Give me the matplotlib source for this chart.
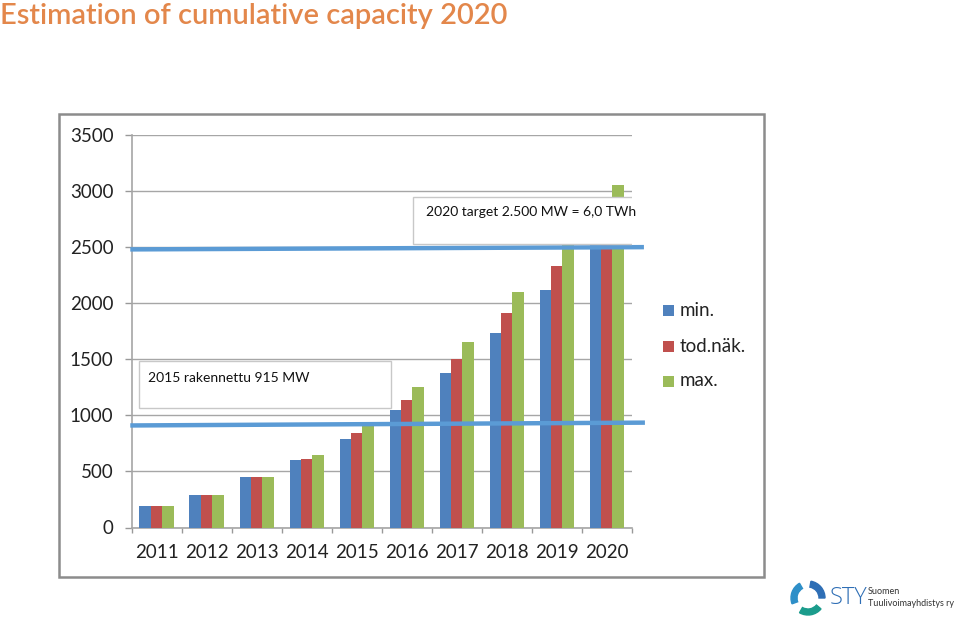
import matplotlib
matplotlib.use("Agg")
import matplotlib.pyplot as plt
from matplotlib.patches import Rectangle, Wedge
import numpy as np

years = ["2011", "2012", "2013", "2014", "2015", "2016", "2017", "2018", "2019", "2020"]
series_names = ["min.", "tod.näk.", "max."]
min_vals = [190, 290, 450, 600, 790, 1045, 1375, 1735, 2115, 2600]
tod_vals = [190, 290, 450, 610, 840, 1140, 1505, 1910, 2335, 2800]
max_vals = [190, 290, 450, 650, 920, 1250, 1650, 2100, 2600, 3050]
colors = ["#4F81BD", "#C0504D", "#9BBB59"]
yticks = [0, 500, 1000, 1500, 2000, 2500, 3000, 3500]
target_line = [2480, 2500]
built_line = [910, 935]
title = "Estimation of cumulative capacity 2020"
target_text = "2020 target 2.500 MW = 6,0 TWh"
built_text = "2015 rakennettu 915 MW"

FONT = ["Lato", "DejaVu Sans"]
plt.rcParams["font.family"] = FONT

fig = plt.figure(figsize=(9.6, 6.2), dpi=100)
W, H = 960, 620

def fx(px):
    return px / W

def fy(py):
    return 1 - py / H

# outer chart frame
fig.patches.append(Rectangle((fx(59), fy(577)), fx(764) - fx(59), fy(114) - fy(577),
                             transform=fig.transFigure, fill=False, edgecolor="#8C8C8C",
                             linewidth=1.8, zorder=0))

ax = fig.add_axes([fx(131.5), fy(527.5), fx(631.7) - fx(131.5), fy(135) - fy(527.5)])
x = np.arange(len(years))
bw = 0.227
for i, (vals, c) in enumerate(zip([min_vals, tod_vals, max_vals], colors)):
    ax.bar(x + (i - 1) * bw, vals, width=bw, color=c, zorder=3, label=series_names[i])

ax.set_xlim(-0.5, len(years) - 0.5)
ax.set_ylim(0, 3500)
ax.set_yticks(yticks)
ax.set_yticklabels([str(v) for v in yticks], fontsize=13.5, color="#222222")
ax.set_xticks(x)
ax.set_xticklabels(years, fontsize=13.5, color="#222222")
ax.set_xticks(np.arange(len(years) + 1) - 0.5, minor=True)
ax.tick_params(axis="x", which="major", length=0, pad=12)
ax.tick_params(axis="x", which="minor", length=3.6, color="#999999", width=1)
ax.tick_params(axis="y", length=5, color="#999999", width=1, pad=8)
ax.grid(axis="y", color="#A6A6A6", linewidth=1, zorder=0)
for s in ["top", "right"]:
    ax.spines[s].set_visible(False)
for s in ["left", "bottom"]:
    ax.spines[s].set_color("#A6A6A6")
    ax.spines[s].set_linewidth(1.2)

# horizontal reference lines (extend slightly beyond plot area)
ax.plot([-0.48, 9.7], target_line, color="#5B9BD5", linewidth=3.2, zorder=5, clip_on=False)
ax.plot([-0.48, 9.72], built_line, color="#5B9BD5", linewidth=3.2, zorder=5, clip_on=False)

# annotation boxes
ax.add_patch(Rectangle((5.13, 2525), 9.66 - 5.13, 2950 - 2525, facecolor="white",
                       edgecolor="#C8C8C8", linewidth=1, zorder=6))
ax.text(5.38, 2810, target_text, fontsize=10, color="#111111", zorder=7,
        va="center", ha="left")
ax.add_patch(Rectangle((-0.35, 1065), 4.68 + 0.35, 1485 - 1065, facecolor="white",
                       edgecolor="#C8C8C8", linewidth=1, zorder=6))
ax.text(-0.17, 1330, built_text, fontsize=10, color="#111111", zorder=7,
        va="center", ha="left")

# legend
leg_y = [310, 346, 381]
for name, c, py in zip(series_names, colors, leg_y):
    fig.patches.append(Rectangle((fx(663), fy(py + 6)), fx(11), 11 / H,
                                 transform=fig.transFigure, facecolor=c, edgecolor="none"))
    fig.text(fx(680), fy(py), name, fontsize=13.5, va="center", ha="left", color="#222222")

# title
fig.text(fx(0), fy(16), title, fontsize=21, color="#E3874B", va="center", ha="left",
         fontweight="semibold")

# logo
for ang, c in zip([0, 120, 240], ["#2E6EB5", "#2E8FC8", "#1B9C8C"]):
    fig.patches.append(Wedge((808, 22), 17, ang, ang + 80, width=6, color=c,
                             transform=None))
fig.text(fx(830), fy(598), "STY", fontsize=17, color="#2E6EB5", va="center", ha="left",
         family=["Open Sans", "DejaVu Sans"], fontweight="light")
fig.text(fx(868), fy(592), "Suomen", fontsize=6.5, color="#333333", va="center", ha="left")
fig.text(fx(868), fy(604), "Tuulivoimayhdistys ry", fontsize=6.5, color="#333333",
         va="center", ha="left")

fig.savefig("out.png", dpi=100)
